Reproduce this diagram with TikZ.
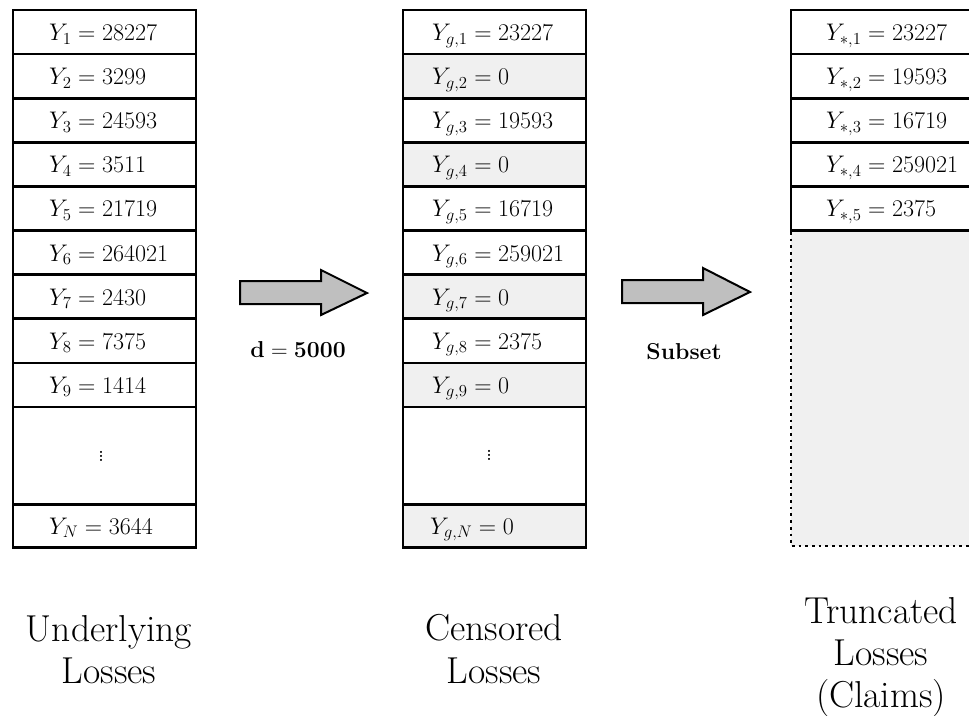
\RequirePackage{fix-cm}
\documentclass[tikz,border=0pt]{standalone}
\usetikzlibrary{calc}
\definecolor{zerogray}{RGB}{240,240,240}
\definecolor{arrowgray}{RGB}{191,191,191}
\begin{document}
\begin{tikzpicture}[x=1pt,y=-1pt,
  cell/.style={draw, line width=2.6pt, minimum width=183pt, minimum height=44.1pt, inner sep=0pt, outer sep=0pt},
  zero/.style={cell, fill=zerogray},
  val/.style={anchor=base west, inner sep=0pt, font=\fontsize{24}{28}\selectfont},
  dotsfont/.style={inner sep=0pt, font=\fontsize{26}{30}\selectfont},
  blockarrow/.style={draw, line width=2pt, fill=arrowgray, line join=miter},
  steplbl/.style={inner sep=0pt, font=\fontsize{23}{27}\selectfont\bfseries},
  biglbl/.style={anchor=base, inner sep=0pt, font=\fontsize{37.5}{42}\selectfont}]
\useasboundingbox (0,0) rectangle (969,715);
\clip (0,0) rectangle (969,715);

% ---------- left column: underlying losses ----------
\foreach \i/\v in {1/28227,2/3299,3/24593,4/3511,5/21719,6/264021,7/2430,8/7375,9/1414}{
  \node[cell] (L\i) at (104.5, {10+(\i-0.5)*44.1}) {};
  \node[val] (LT\i) at (49, {10+(\i-0.5)*44.1+8.5}) {$Y_{\i} = \v$};
}
\node[cell, minimum height=97.6pt] (Ldots) at (104.5, 455.7) {};
\node[dotsfont] (LdotsT) at (101, 453) {$\vdots$};
\node[cell, minimum height=43pt] (LN) at (104.5, 526) {};
\node[val] (LTN) at (49, 534) {$Y_N = 3644$};

% ---------- middle column: censored losses ----------
\foreach \i/\v/\s in {1/23227/cell,2/0/zero,3/19593/cell,4/0/zero,5/16719/cell,6/259021/cell,7/0/zero,8/2375/cell,9/0/zero}{
  \node[\s] (M\i) at (494.5, {10+(\i-0.5)*44.1}) {};
  \node[val] (MT\i) at (432, {10+(\i-0.5)*44.1+8.5}) {$Y_{g,\i} = \v$};
}
\node[cell, minimum height=97.6pt] (Mdots) at (494.5, 455.7) {};
\node[dotsfont] (MdotsT) at (489, 452) {$\vdots$};
\node[zero, minimum height=43pt] (MN) at (494.5, 526) {};
\node[val] (MTN) at (430, 534) {$Y_{g,N} = 0$};

% ---------- right column: truncated losses ----------
\fill[zerogray] (791,230.5) rectangle (980,546);
\draw[line width=2.7pt, dash pattern=on 2.7pt off 4pt] (791,232) -- (791,546) -- (980,546);
\foreach \i/\v in {1/23227,2/19593,3/16719,4/259021,5/2375}{
  \node[cell] (R\i) at (882.5, {10+(\i-0.5)*44.1}) {};
  \node[val] (RT\i) at (826, {10+(\i-0.5)*44.1+8.5}) {$Y_{*,\i} = \v$};
}

% ---------- block arrows ----------
\draw[blockarrow] (240,281) -- (321,281) -- (321,270) -- (367,293) -- (321,315) -- (321,304) -- (240,304) -- cycle;
\draw[blockarrow] (622,280) -- (703,280) -- (703,268) -- (750,292) -- (703,315) -- (703,303) -- (622,303) -- cycle;
\node[steplbl] (dlbl) at (298,350) {$\mathbf{d = 5000}$};
\node[steplbl] (sublbl) at (684,352) {Subset};

% ---------- captions ----------
\node[biglbl] (c1a) at (109,641) {Underlying};
\node[biglbl] (c1b) at (109,683) {Losses};
\node[biglbl] (c2a) at (494,640) {Censored};
\node[biglbl] (c2b) at (494,683) {Losses};
\node[biglbl] (c3a) at (881,623) {Truncated};
\node[biglbl] (c3b) at (881,665) {Losses};
\node[biglbl] (c3c) at (881,707) {(Claims)};
\end{tikzpicture}
\end{document}
